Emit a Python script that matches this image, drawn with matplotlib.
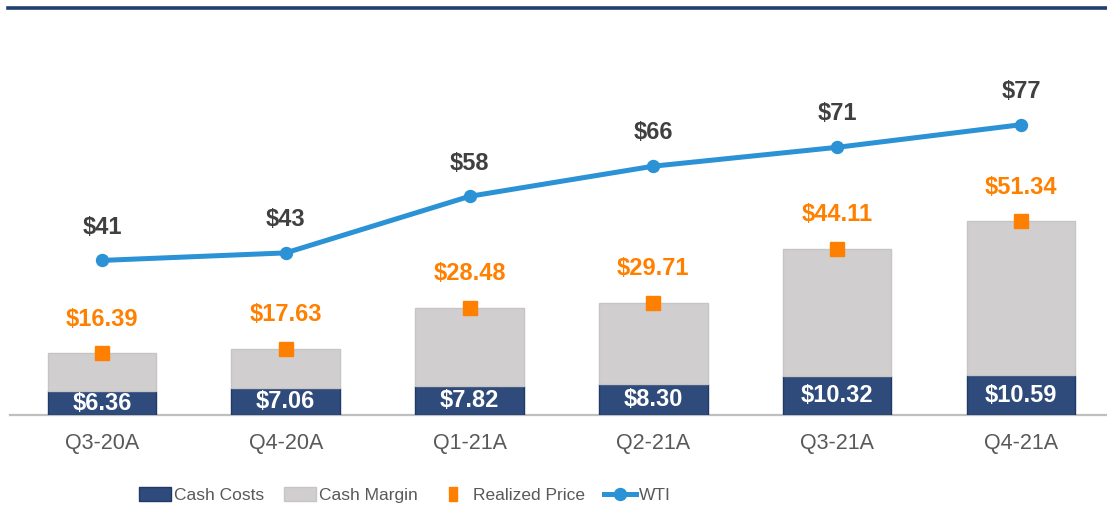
import matplotlib.pyplot as plt
from matplotlib.lines import Line2D
from matplotlib.patches import Patch

plt.rcParams['font.family'] = ['Liberation Sans', 'DejaVu Sans']

quarters = ['Q3-20A', 'Q4-20A', 'Q1-21A', 'Q2-21A', 'Q3-21A', 'Q4-21A']
cash_costs = [6.36, 7.06, 7.82, 8.30, 10.32, 10.59]
realized = [16.39, 17.63, 28.48, 29.71, 44.11, 51.34]
wti = [41, 43, 58, 66, 71, 77]
cash_margin = [r - c for r, c in zip(realized, cash_costs)]

NAVY = '#2F4B7C'
NAVY_EDGE = '#1F3A68'
GRAY = '#D0CECE'
ORANGE = '#FF8000'
BLUE = '#2B92D5'

fig = plt.figure(figsize=(11.07, 5.08), dpi=100)
ax = fig.add_axes([10 / 1107, 1 - 415 / 508, 1 - 10 / 1107, (415 - 38) / 508])

x = list(range(len(quarters)))
ax.bar(x, cash_costs, width=0.59, color=NAVY, edgecolor=NAVY_EDGE, linewidth=1, zorder=2)
ax.bar(x, cash_margin, bottom=cash_costs, width=0.59, color=GRAY,
       edgecolor='#C6C4C4', linewidth=1, zorder=2)
ax.plot(x, realized, ls='none', marker='s', ms=9.6, color=ORANGE, zorder=4)
ax.plot(x, wti, color=BLUE, lw=3.6, marker='o', ms=8.6, zorder=3,
        solid_capstyle='round')

for i in x:
    ax.text(i, cash_costs[i] / 2, f'${cash_costs[i]:.2f}', ha='center', va='center',
            color='white', fontsize=17, fontweight='bold', zorder=5)
    ax.annotate(f'${realized[i]:.2f}', (i, realized[i]), xytext=(0, 24.5),
                textcoords='offset points', ha='center', va='center',
                color=ORANGE, fontsize=17, fontweight='bold')
    ax.annotate(f'${wti[i]}', (i, wti[i]), xytext=(0, 24),
                textcoords='offset points', ha='center', va='center',
                color='#404040', fontsize=17, fontweight='bold')

ax.set_xlim(-0.5, 5.468)
ax.set_ylim(0, 100)
ax.set_xticks(x)
ax.set_xticklabels(quarters, fontsize=15.5, color='#595959')
ax.tick_params(axis='x', length=0, pad=13)
ax.set_yticks([])
for s in ['top', 'left', 'right']:
    ax.spines[s].set_visible(False)
ax.spines['bottom'].set_color('#BFBFBF')
ax.spines['bottom'].set_linewidth(1.6)
ax.spines['bottom'].set_zorder(1)

# navy rule across the top
fig.add_artist(Line2D([8 / 1107, 1], [1 - 7.5 / 508] * 2, color='#1F3F6E', lw=2.6))

tall_box = [(-0.28, -0.5), (0.28, -0.5), (0.28, 0.5), (-0.28, 0.5), (-0.28, -0.5)]
handles = [
    Patch(facecolor=NAVY, edgecolor=NAVY_EDGE, label='Cash Costs'),
    Patch(facecolor=GRAY, edgecolor='#C6C4C4', label='Cash Margin'),
    Line2D([], [], ls='none', marker=tall_box, ms=10.5, color=ORANGE, label='Realized Price'),
    Line2D([], [], color=BLUE, lw=3.6, marker='o', ms=8.6, label='WTI'),
]
fig.legend(handles=handles, loc='center', bbox_to_anchor=(405 / 1107, 1 - 495 / 508),
           ncol=4, frameon=False, fontsize=12.5, labelcolor='#595959',
           handlelength=1.85, handleheight=0.85, handletextpad=0.2, columnspacing=1.1)

fig.savefig('out.png', dpi=100)
